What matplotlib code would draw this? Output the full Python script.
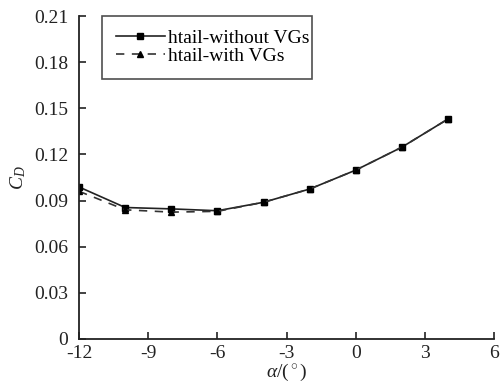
import matplotlib
matplotlib.use("Agg")
import matplotlib.pyplot as plt

plt.rcParams['font.family'] = ['Liberation Serif', 'DejaVu Serif']
plt.rcParams['mathtext.fontset'] = 'custom'
plt.rcParams['mathtext.rm'] = 'Liberation Serif'
plt.rcParams['mathtext.it'] = 'Liberation Serif:italic'

alpha = [-12, -10, -8, -6, -4, -2, 0, 2, 4]
cd_without = [0.0988, 0.0855, 0.0846, 0.0834, 0.0889, 0.0975, 0.1098, 0.1247, 0.1430]
cd_with = [0.0960, 0.0840, 0.0825, 0.0830, 0.0889, 0.0975, 0.1098, 0.1247, 0.1430]
xticks = [-12, -9, -6, -3, 0, 3, 6]
yticks = [0, 0.03, 0.06, 0.09, 0.12, 0.15, 0.18, 0.21]
ytick_labels = ['0', '0.03', '0.06', '0.09', '0.12', '0.15', '0.18', '0.21']

fig = plt.figure(figsize=(5.01, 3.91), dpi=100)
ax = fig.add_axes([0.158, 0.133, 0.828, 0.826])

ax.plot(alpha, cd_without, color='#222222', lw=1.2, ls='-', marker='s', ms=5,
        mfc='black', mec='black', label='htail-without VGs')
ax.plot(alpha, cd_with, color='#333333', lw=1.2, ls=(0, (5, 4.5)), marker='^', ms=5,
        mfc='black', mec='black', label='htail-with VGs')

ax.set_xlim(-12, 6)
ax.set_ylim(0, 0.21)
ax.set_xticks(xticks)
ax.set_xticklabels([str(t) for t in xticks])
ax.set_yticks(yticks)
ax.set_yticklabels(ytick_labels)
ax.tick_params(direction='in', length=5, width=1.2, labelsize=14, color='#222222',
               labelcolor='#222222')
ax.tick_params(axis='x', pad=4)
ax.tick_params(axis='y', pad=8)
for s in ['top', 'right']:
    ax.spines[s].set_visible(False)
for s in ['left', 'bottom']:
    ax.spines[s].set_linewidth(1.3)
    ax.spines[s].set_color('#222222')

ax.set_xlabel(r'$\alpha$/($^\circ$)', fontsize=14, color='#222222', labelpad=0)
ax.set_ylabel(r'$C_D$', fontsize=14, color='#222222', labelpad=4)

leg = ax.legend(loc='upper left', bbox_to_anchor=(0.055, 0.0, 0.506, 1.0),
                mode='expand', fontsize=14,
                frameon=True, fancybox=False, edgecolor='#222222',
                handlelength=2.55, handletextpad=0.15, borderpad=0.7,
                labelspacing=0.02, borderaxespad=0.0)
leg.get_frame().set_linewidth(1.2)

fig.savefig('out.png', dpi=100)
